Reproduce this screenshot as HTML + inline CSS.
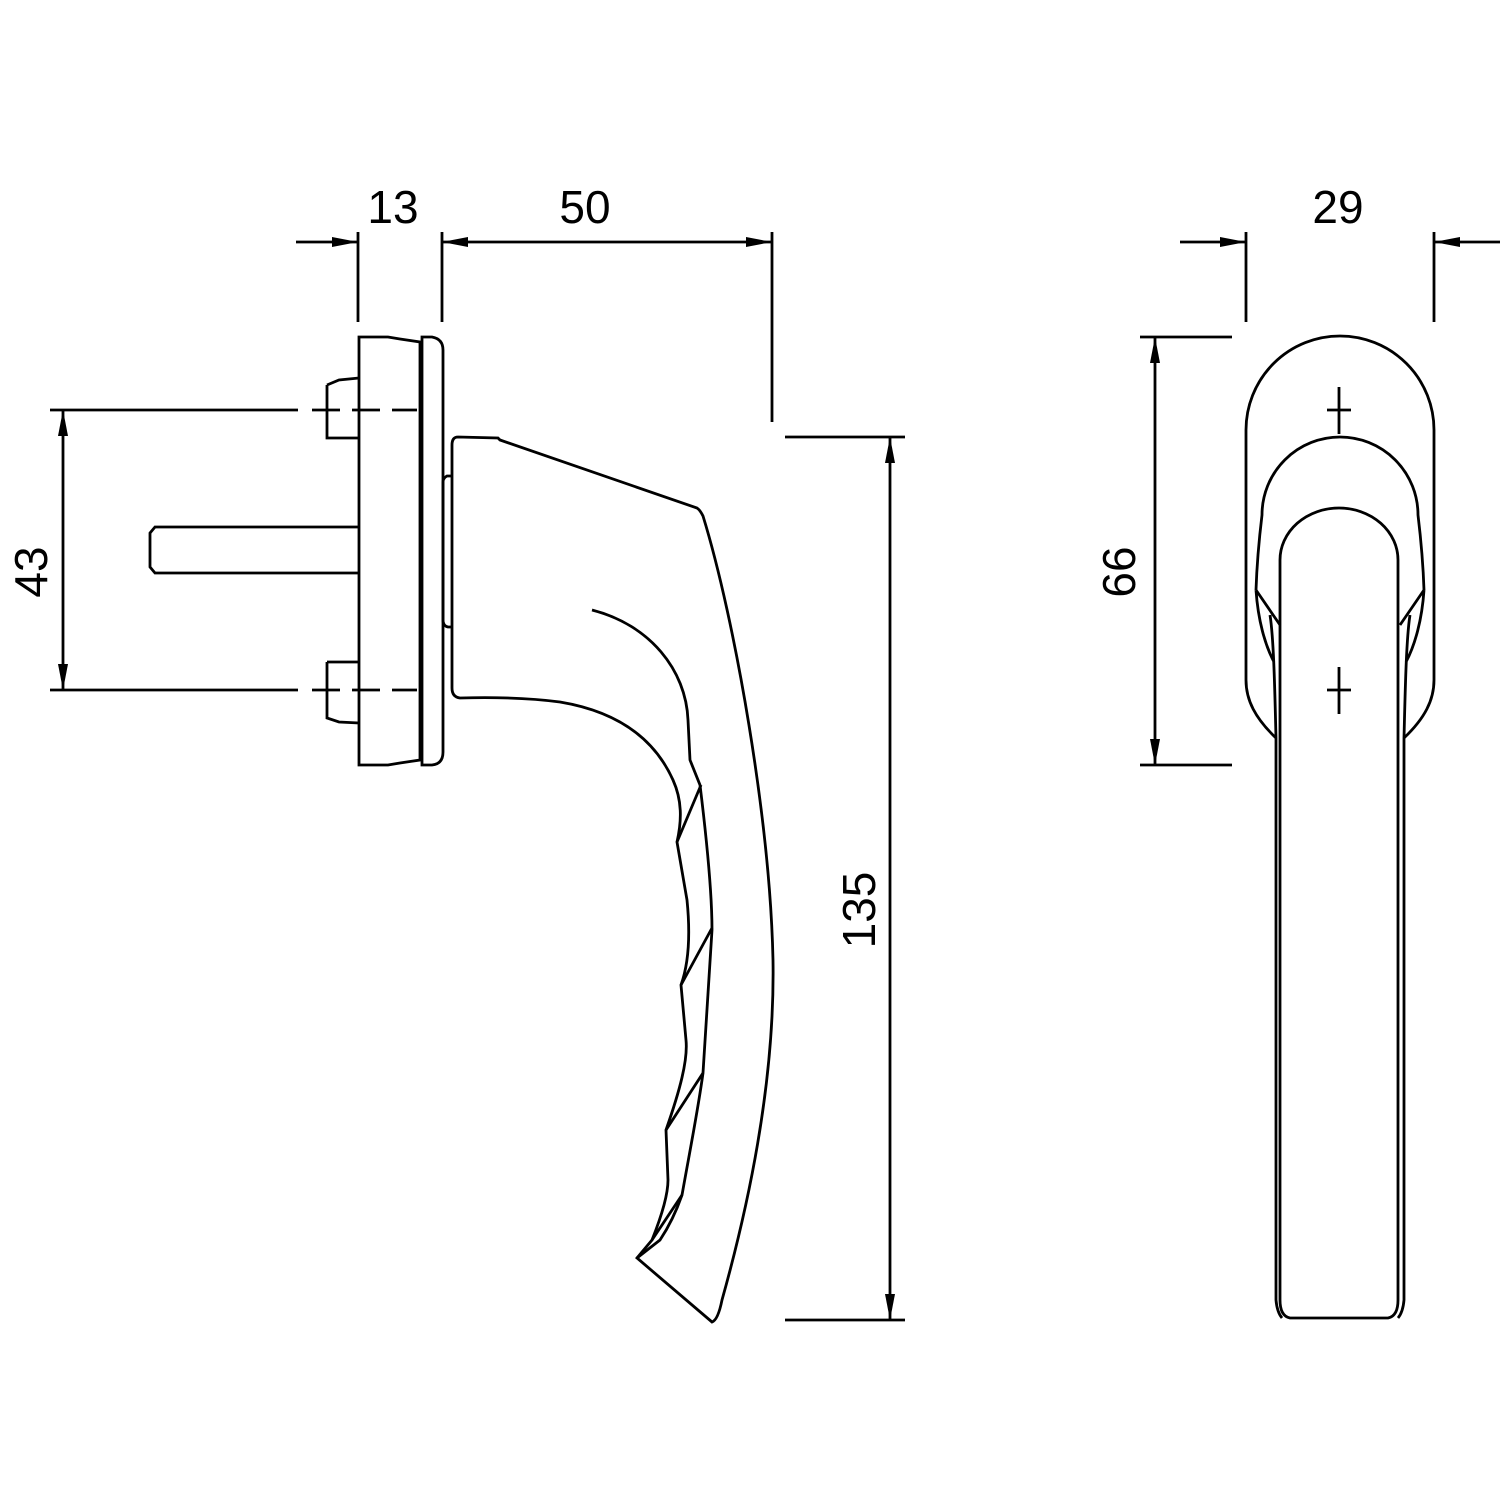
<!DOCTYPE html>
<html><head><style>html,body{margin:0;padding:0;background:#fff}svg{display:block}</style></head>
<body>
<svg width="1500" height="1500" viewBox="0 0 1500 1500" xmlns="http://www.w3.org/2000/svg">
<defs>
<marker id="a" viewBox="0 0 26 10" refX="26" refY="5" markerWidth="26" markerHeight="10" markerUnits="userSpaceOnUse" orient="auto-start-reverse"><path d="M0,0 L26,5 L0,10 z" fill="#000"/></marker>
</defs>
<g fill="none" stroke="#000" stroke-width="2.8">
<line x1="358" y1="232" x2="358" y2="322"/>
<line x1="442" y1="232" x2="442" y2="322"/>
<line x1="772" y1="232" x2="772" y2="422"/>
<line x1="296" y1="242" x2="358" y2="242" marker-end="url(#a)"/>
<line x1="442" y1="242" x2="772" y2="242" marker-start="url(#a)" marker-end="url(#a)"/>
<line x1="50" y1="410" x2="298" y2="410"/>
<line x1="50" y1="690" x2="298" y2="690"/>
<line x1="63" y1="410" x2="63" y2="690" marker-start="url(#a)" marker-end="url(#a)"/>
<line x1="312" y1="410" x2="417" y2="410" stroke-dasharray="28,12"/>
<line x1="312" y1="690" x2="417" y2="690" stroke-dasharray="28,12"/>
<line x1="785" y1="437" x2="905" y2="437"/>
<line x1="785" y1="1320" x2="905" y2="1320"/>
<line x1="890" y1="437" x2="890" y2="1320" marker-start="url(#a)" marker-end="url(#a)"/>
<path d="M359,337 L388,337 L400,339 L420,342 L420,760 L400,763 L388,765 L359,765 Z"/>
<path d="M422,337 L432,337 Q443,339 443,350 L443,752 Q443,764 432,765 L422,765 Z"/>
<path d="M327,385 L339,380 L359,378 M327,385 L327,438 L359,438"/>
<path d="M327,662 L359,662 M327,662 L327,718 L339,722 L359,723"/>
<path d="M359,527 L155,527 L150,533 L150,567 L155,573 L359,573"/>
<path d="M452,476 L447,476 Q443,478 443,482 L443,620 Q443,626 448,627 L452,627"/>
<path d="M458,437 L498,438 L500,440 L697,508 Q700,510 703,516 C735,620 770,820 773,960 C775,1080 750,1200 722,1300 Q718,1320 712,1322 L637,1258 L652,1240 C662,1215 668,1195 668,1180 L666,1130 C680,1090 688,1060 686,1040 L681,985 C690,960 690,930 687,900 L677,842 C682,820 682,800 673,780 C655,740 620,712 560,702 C530,698 497,697 460,698 Q452,697 452,688 L452,445 Q452,437 458,437 Z"/>
<path d="M592,610 C650,625 686,670 688,720 L690,760 L700,785 C708,850 712,900 712,930 L703,1073 C698,1110 690,1150 682,1195 C675,1215 668,1228 660,1240 L637,1258"/>
<line x1="701" y1="785" x2="677" y2="842"/>
<line x1="712" y1="928" x2="681" y2="985"/>
<line x1="703" y1="1073" x2="666" y2="1130"/>
<line x1="682" y1="1195" x2="652" y2="1240"/>
<line x1="1246" y1="232" x2="1246" y2="322"/>
<line x1="1434" y1="232" x2="1434" y2="322"/>
<line x1="1180" y1="242" x2="1246" y2="242" marker-end="url(#a)"/>
<line x1="1500" y1="242" x2="1434" y2="242" marker-end="url(#a)"/>
<line x1="1140" y1="337" x2="1232" y2="337"/>
<line x1="1140" y1="765" x2="1232" y2="765"/>
<line x1="1155" y1="337" x2="1155" y2="765" marker-start="url(#a)" marker-end="url(#a)"/>
<path d="M1276,738 C1255,718 1246,700 1246,680 L1246,430 A94,94 0 0 1 1434,430 L1434,680 C1434,700 1425,718 1404,738"/>
<path d="M1327,410 L1351,410 M1339,387 L1339,434"/>
<path d="M1327,690 L1351,690 M1339,667 L1339,714"/>
<path d="M1256,590 C1257,560 1259,540 1262,515 A78,78 0 0 1 1418,515 C1421,540 1423,560 1424,590"/>
<path d="M1256,590 C1258,620 1265,645 1274,662 M1256,590 L1280,625 M1270,615 C1274,640 1275,700 1276,738"/>
<path d="M1424,590 C1422,620 1415,645 1406,662 M1424,590 L1400,625 M1410,615 C1406,640 1405,700 1404,738"/>
<path d="M1280,1300 L1280,560 A59,52 0 0 1 1398,560 L1398,1300 Q1398,1316 1388,1318 L1290,1318 Q1280,1316 1280,1300"/>
<path d="M1276,738 L1276,1300 Q1277,1312 1282,1318 M1404,738 L1404,1300 Q1403,1312 1398,1318"/>
</g>
<g font-family="Liberation Sans, sans-serif" font-size="46" fill="#000" text-anchor="middle">
<text x="393" y="223">13</text>
<text x="585" y="223">50</text>
<text x="1338" y="223">29</text>
<text transform="translate(47,572) rotate(-90)">43</text>
<text transform="translate(875,910) rotate(-90)">135</text>
<text transform="translate(1135,572) rotate(-90)">66</text>
</g>
</svg>
</body></html>
